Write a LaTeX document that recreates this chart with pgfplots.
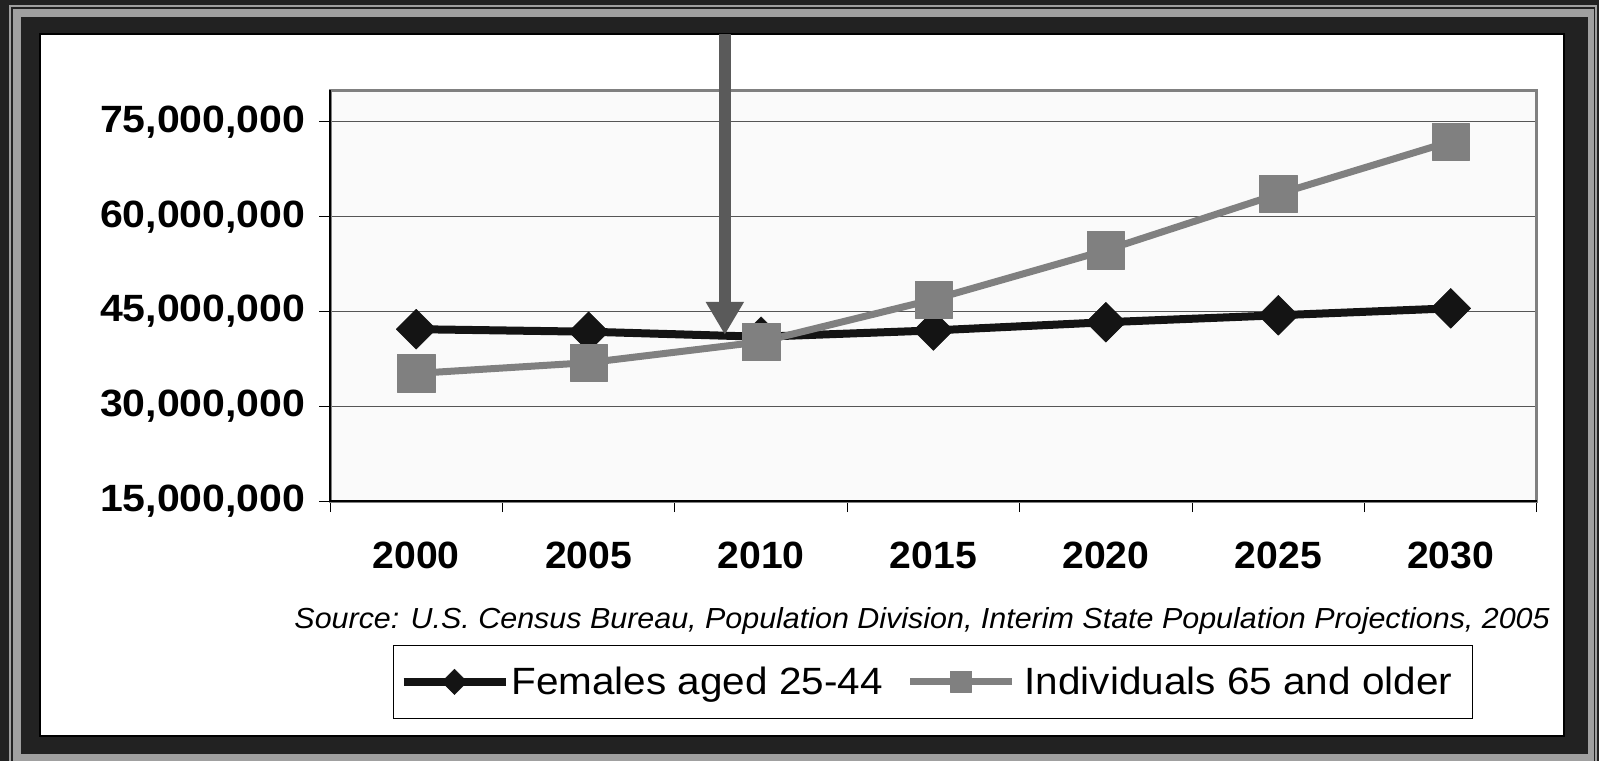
\documentclass[border=0pt]{standalone}
\usepackage{pgfplots}
\pgfplotsset{compat=1.18}
\usepackage{fontspec}
\setmainfont[FakeStretch=1.05]{Liberation Sans}
\newfontfamily\ylabfont[FakeStretch=1.08]{Liberation Sans}
\newfontfamily\xlabfont[FakeStretch=1.03]{Liberation Sans}
\newfontfamily\legfont[FakeStretch=1.065]{Liberation Sans}
\usetikzlibrary{arrows.meta}
\definecolor{frameDark}{HTML}{222222}
\definecolor{frameGray}{HTML}{A0A0A0}
\definecolor{plotBg}{HTML}{FAFAFA}
\definecolor{plotBorder}{HTML}{808080}
\definecolor{gridC}{HTML}{555555}
\definecolor{femC}{HTML}{141414}
\definecolor{oldC}{HTML}{808080}
\definecolor{arrowC}{HTML}{5A5A5A}
\begin{document}
\begin{tikzpicture}
\path[use as bounding box] (0,0) rectangle (1599bp,-761bp);
\fill[frameDark] (0,0) rectangle (1599bp,-761bp);
\fill[frameGray] (9bp,-5bp) rectangle (1597bp,-761bp);
\draw[frameDark, line width=1.5bp] (12bp,-8bp) rectangle (1594.5bp,-770bp);
\fill[frameDark] (21bp,-17bp) rectangle (1588bp,-754bp);
\filldraw[fill=white, draw=black, line width=1.5bp] (40bp,-34bp) rectangle (1564bp,-736bp);
\begin{axis}[
  name=ax,
  at={(330bp,-501bp)}, anchor=south west,
  scale only axis, width=1207bp, height=411bp,
  clip=false,
  xmin=-0.5, xmax=6.5, ymin=15e6, ymax=80.06e6,
  axis background/.style={fill=plotBg},
  axis line style={draw=plotBorder, line width=3bp},
  xtick={-0.5,0.5,...,6.5}, xticklabels={},
  extra x ticks={0,1,2,3,4,5,6},
  extra x tick labels={2000,2005,2010,2015,2020,2025,2030},
  extra x tick style={major tick length=0pt, tick label style={yshift=-37bp, font=\xlabfont\bfseries\fontsize{38bp}{44bp}\selectfont}},
  ytick={15e6,30e6,45e6,60e6,75e6},
  yticklabels={{15,000,000},{30,000,000},{45,000,000},{60,000,000},{75,000,000}},
  scaled y ticks=false,
  yticklabel style={xshift=-10bp, font=\ylabfont\bfseries\fontsize{38bp}{44bp}\selectfont},
  ymajorgrids, grid style={draw=gridC, line width=1bp},
  tick align=outside, major tick length=11bp,
  tick style={black, line width=1bp},
  tick pos=left,
  tick label style={text=black},
  legend columns=2,
  legend style={at={(axis description cs:0.0522,-0.350)}, anchor=north west,
    draw=black, line width=1bp, fill=white, inner xsep=6bp, inner ysep=20bp,
    font=\legfont\fontsize{38bp}{44bp}\selectfont, nodes={inner sep=2bp},
    /tikz/every even column/.append style={column sep=22bp}},
  legend image code/.code={\draw[mark repeat=2,mark phase=2,#1] plot coordinates {(0bp,0bp) (51bp,0bp) (102bp,0bp)};},
  after end axis/.code={
    \draw[arrowC, line width=12bp, -{Triangle[width=36bp,length=33bp]}]
      (axis cs:1.79,88.9e6) -- (axis cs:1.79,41.3e6);
  },
]
\addplot[color=femC, line width=8bp, line join=round, mark=square*, mark size=14.1bp,
  mark options={rotate=45, solid, line width=0.5bp, fill=femC},
  legend image post style={mark size=9bp}]
  coordinates {(0,42.2e6) (1,41.8e6) (2,41.0e6) (3,42.0e6) (4,43.3e6) (5,44.4e6) (6,45.5e6)};
\addlegendentry{Females aged 25-44}
\addplot[color=oldC, line width=7bp, line join=round, mark=square*, mark size=18.7bp,
  mark options={solid, line width=0.5bp, fill=oldC},
  legend image post style={mark size=10.5bp}]
  coordinates {(0,35.2e6) (1,36.9e6) (2,40.2e6) (3,46.9e6) (4,54.7e6) (5,63.6e6) (6,71.9e6)};
\addlegendentry{\hspace*{7bp}Individuals 65 and older\hspace*{12bp}}
\end{axis}
\draw[black, line width=1.5bp] (ax.north west) -- (ax.south west) -- (ax.south east);
\node[anchor=base east, font=\itshape\fontsize{29bp}{32bp}\selectfont, inner sep=0pt] at (1550bp,-628bp)
  {Source: U.S. Census Bureau, Population Division, Interim State Population Projections, 2005};
\end{tikzpicture}
\end{document}
